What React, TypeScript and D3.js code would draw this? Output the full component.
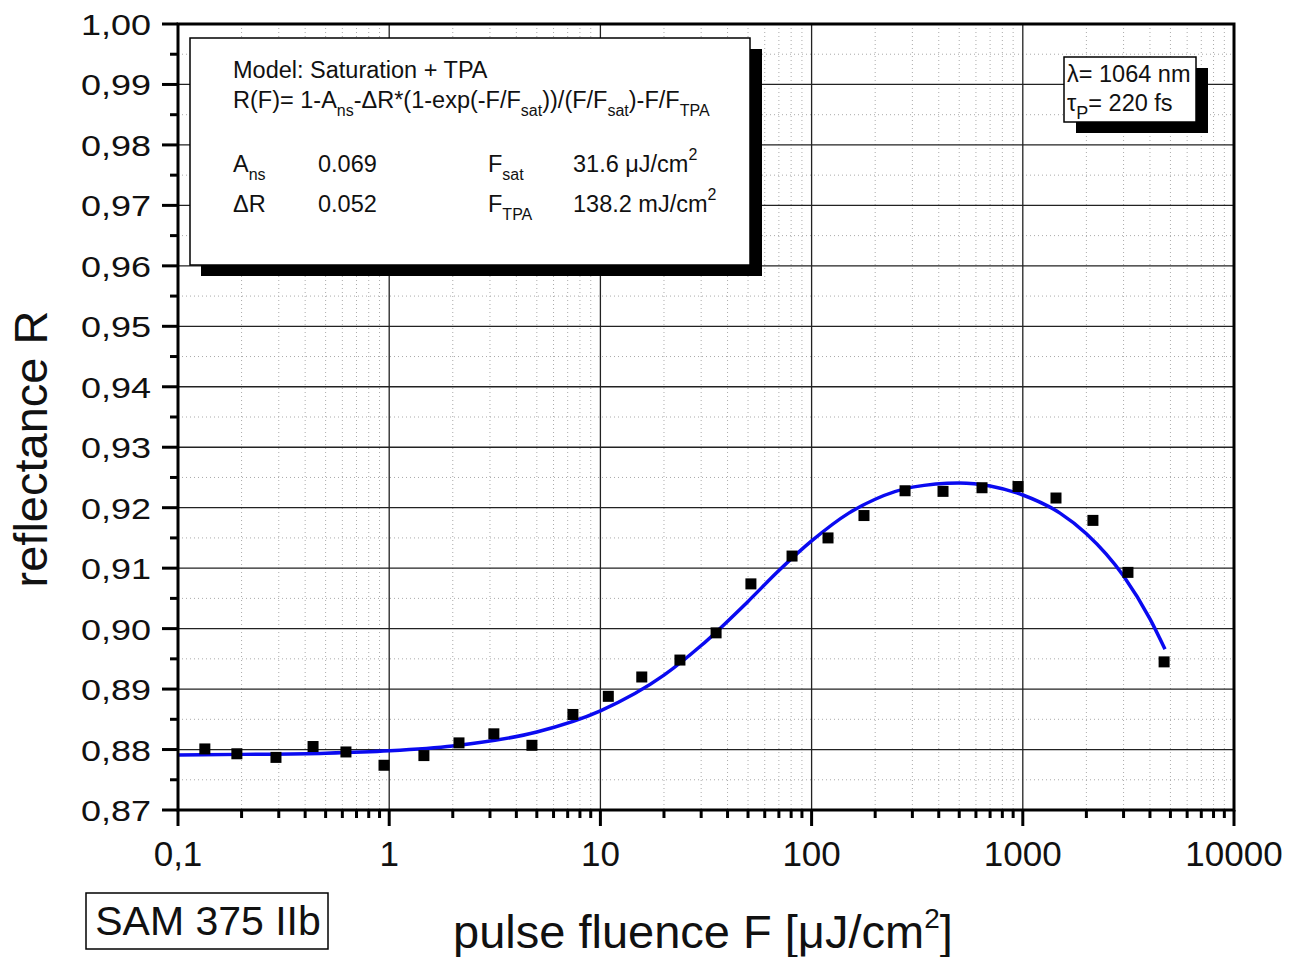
import * as d3 from "d3";

// measured fluence [µJ/cm²] and reflectance
const fluence = [
  0.134, 0.19, 0.291, 0.436, 0.624, 0.945, 1.46, 2.14, 3.13, 4.74, 7.41, 10.9, 15.7, 23.8, 35.3,
  51.6, 80.8, 119.6, 177, 277, 419, 641, 949, 1436, 2148, 3147, 4667,
];
const reflectance = [
  0.8801, 0.8793, 0.8787, 0.8805, 0.8796, 0.8774, 0.879, 0.8811, 0.8826, 0.8807, 0.8858, 0.8888,
  0.892, 0.8948, 0.8993, 0.9074, 0.912, 0.915, 0.9187, 0.9228, 0.9227, 0.9233, 0.9235, 0.9216,
  0.9179, 0.9093, 0.8945,
];

// fit curve
const fitF = [0.1, 0.2, 0.5, 1, 2, 5, 10, 20, 30, 50, 70, 100, 150, 200, 300, 500, 700, 1000, 1500, 2000, 3000, 4000, 4710];
const fitR = [
  0.8791, 0.8792, 0.8794, 0.8798, 0.8806, 0.8829, 0.8864, 0.8923, 0.8972, 0.9045, 0.9096, 0.9145,
  0.9191, 0.9214, 0.9234, 0.9241, 0.9236, 0.9221, 0.9191, 0.9157, 0.9087, 0.9016, 0.8966,
];

const yTicks = d3.range(0, 14).map((i) => +(0.87 + i * 0.01).toFixed(2));
const yMinor = d3.range(0, 13).map((i) => +(0.875 + i * 0.01).toFixed(3));
const xTicks = [0.1, 1, 10, 100, 1000, 10000];
const xTickLabels = ["0,1", "1", "10", "100", "1000", "10000"];

const W = 1304;
const H = 957;
const L = 178, R = 1234, T = 24, B = 810;
const FONT = "'Liberation Sans', Arial, sans-serif";

type Seg = [string, "n" | "sub" | "sup"];

// text with sub/superscripts, every tspan carries its own text
function Rich({
  x, y, segs, size = 23.5, small = 16, subDy = 8, supDy = -12,
}: { x: number; y: number; segs: Seg[]; size?: number; small?: number; subDy?: number; supDy?: number }) {
  let cur = 0;
  return (
    <text x={x} y={y} fontSize={size} fill="#111">
      {segs.map(([t, k], i) => {
        const target = k === "sub" ? subDy : k === "sup" ? supDy : 0;
        const dy = target - cur;
        cur = target;
        return (
          <tspan key={i} dy={dy} fontSize={k === "n" ? size : small}>
            {t}
          </tspan>
        );
      })}
    </text>
  );
}

export default function App() {
  const x = d3.scaleLog().domain([0.1, 10000]).range([L, R]);
  const y = d3.scaleLinear().domain([0.87, 1.0]).range([B, T]);

  const xMinor: number[] = [];
  [0.1, 1, 10, 100, 1000].forEach((d) => {
    for (let k = 2; k <= 9; k++) xMinor.push(d * k);
  });

  const line = d3
    .line<number>()
    .x((d) => x(d))
    .y((_, i) => y(fitR[i]))
    .curve(d3.curveMonotoneX);

  return (
    <svg width={W} height={H} style={{ position: "absolute", left: 0, top: 0, background: "#fff" }} fontFamily={FONT}>
      <defs>
        <clipPath id="plot">
          <rect x={L} y={T} width={R - L} height={B - T} />
        </clipPath>
      </defs>

      {/* grid */}
      <g>
        {xMinor.map((v) => (
          <line key={"xm" + v} x1={x(v)} x2={x(v)} y1={T} y2={B} stroke="#aaa" strokeWidth={1} strokeDasharray="1,3" />
        ))}
        {yMinor.map((v) => (
          <line key={"ym" + v} x1={L} x2={R} y1={y(v)} y2={y(v)} stroke="#aaa" strokeWidth={1} strokeDasharray="1,3" />
        ))}
        {xTicks.slice(1, -1).map((v) => (
          <line key={"xg" + v} x1={x(v)} x2={x(v)} y1={T} y2={B} stroke="#222" strokeWidth={1.3} />
        ))}
        {yTicks.slice(1, -1).map((v) => (
          <line key={"yg" + v} x1={L} x2={R} y1={y(v)} y2={y(v)} stroke="#222" strokeWidth={1.3} />
        ))}
      </g>

      {/* fit + data */}
      <path d={line(fitF) ?? ""} fill="none" stroke="#0a0af0" strokeWidth={3.5} clipPath="url(#plot)" />
      {fluence.map((f, i) => (
        <rect key={"p" + i} x={x(f) - 5.5} y={y(reflectance[i]) - 5.5} width={11} height={11} fill="#000" />
      ))}

      {/* model box */}
      <rect x={201} y={49} width={561} height={227} fill="#000" />
      <rect x={190} y={38} width={560} height={227} fill="#fff" stroke="#000" strokeWidth={1.5} />
      <Rich x={233} y={78} segs={[["Model: Saturation + TPA", "n"]]} />
      <Rich
        x={233}
        y={108}
        segs={[
          ["R(F)= 1-A", "n"],
          ["ns", "sub"],
          ["-ΔR*(1-exp(-F/F", "n"],
          ["sat", "sub"],
          ["))/(F/F", "n"],
          ["sat", "sub"],
          [")-F/F", "n"],
          ["TPA", "sub"],
        ]}
      />
      <Rich x={233} y={172} segs={[["A", "n"], ["ns", "sub"]]} />
      <Rich x={318} y={172} segs={[["0.069", "n"]]} />
      <Rich x={488} y={172} segs={[["F", "n"], ["sat", "sub"]]} />
      <Rich x={573} y={172} segs={[["31.6 μJ/cm", "n"], ["2", "sup"]]} />
      <Rich x={233} y={212} segs={[["ΔR", "n"]]} />
      <Rich x={318} y={212} segs={[["0.052", "n"]]} />
      <Rich x={488} y={212} segs={[["F", "n"], ["TPA", "sub"]]} />
      <Rich x={573} y={212} segs={[["138.2 mJ/cm", "n"], ["2", "sup"]]} />

      {/* lambda box */}
      <rect x={1076} y={68} width={132} height={65} fill="#000" />
      <rect x={1064} y={57} width={132} height={65} fill="#fff" stroke="#000" strokeWidth={1.5} />
      <Rich x={1067} y={82} segs={[["λ= 1064 nm", "n"]]} />
      <Rich x={1067} y={111} small={18} segs={[["τ", "n"], ["P", "sub"], ["= 220 fs", "n"]]} />

      {/* axes frame and ticks */}
      <rect x={L} y={T} width={R - L} height={B - T} fill="none" stroke="#000" strokeWidth={3} />
      {yTicks.map((v) => (
        <line key={"yt" + v} x1={L - 16} x2={L} y1={y(v)} y2={y(v)} stroke="#000" strokeWidth={3} />
      ))}
      {yMinor.map((v) => (
        <line key={"ymt" + v} x1={L - 8} x2={L} y1={y(v)} y2={y(v)} stroke="#000" strokeWidth={3} />
      ))}
      {xTicks.map((v) => (
        <line key={"xt" + v} x1={x(v)} x2={x(v)} y1={B} y2={B + 16} stroke="#000" strokeWidth={3} />
      ))}
      {xMinor.map((v) => (
        <line key={"xmt" + v} x1={x(v)} x2={x(v)} y1={B} y2={B + 8} stroke="#000" strokeWidth={3} />
      ))}

      {/* tick labels */}
      {yTicks.map((v) => (
        <text
          key={"yl" + v}
          transform={`translate(151,${y(v) + 11}) scale(1.2,1)`}
          textAnchor="end"
          fontSize={30}
          fill="#111"
        >
          {v.toFixed(2).replace(".", ",")}
        </text>
      ))}
      {xTicks.map((v, i) => (
        <text key={"xl" + v} x={x(v)} y={866} textAnchor="middle" fontSize={35} fill="#111">
          {xTickLabels[i]}
        </text>
      ))}

      {/* axis titles */}
      <text transform={`translate(47,${449}) rotate(-90)`} textAnchor="middle" fontSize={47} fill="#111">
        reflectance R
      </text>
      <Rich
        x={453}
        y={948}
        size={47}
        small={28}
        supDy={-20}
        segs={[
          ["pulse fluence F [μJ/cm", "n"],
          ["2", "sup"],
          ["]", "n"],
        ]}
      />

      {/* sample label */}
      <rect x={86} y={893} width={242} height={56} fill="#fff" stroke="#000" strokeWidth={1.5} />
      <text x={208} y={935} textAnchor="middle" fontSize={41} fill="#111">
        SAM 375 IIb
      </text>
    </svg>
  );
}
